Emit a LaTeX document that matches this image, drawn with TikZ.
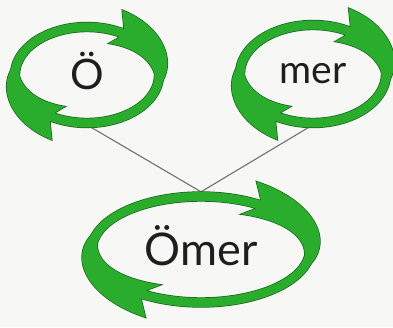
\documentclass[tikz,border=0pt]{standalone}
\usepackage{fontspec}
\newfontfamily\wordfont{Lato}
\usetikzlibrary{shapes.geometric}
\definecolor{ringgreen}{RGB}{42,172,44}
\definecolor{ringedge}{RGB}{22,100,24}
\definecolor{linkgray}{RGB}{112,112,112}
\definecolor{ink}{RGB}{30,30,30}
\definecolor{paper}{RGB}{247,247,245}
\tikzset{declare function={taper(\t,\p,\q)=((\t-\q)/(\p-\q))*(1.5-0.5*(\t-\q)/(\p-\q));}}
% half of a ring: a, b, barb angle, tip angle
\newcommand{\ringarrow}[4]{
  plot[domain=#4+200:#3,samples=40] ({(#1+4.5)*cos(\x)},{(#2+4.5)*sin(\x)})
  -- plot[domain=#3+7:#4,samples=30] ({(#1+22*taper(\x,#3+7,#4))*cos(\x)},{(#2+22*taper(\x,#3+7,#4))*sin(\x)})
  -- plot[domain=#4:#3+7,samples=30] ({(#1-14*taper(\x,#3+7,#4))*cos(\x)},{(#2-14*taper(\x,#3+7,#4))*sin(\x)})
  -- plot[domain=#3:#4+200,samples=40] ({(#1-4.5)*cos(\x)},{(#2-4.5)*sin(\x)}) -- cycle}

\begin{document}
\begin{tikzpicture}[x=1pt,y=1pt,
    word/.style={ellipse, inner sep=0pt, text depth=0pt, text=ink},
    ringline/.style={draw=ringedge, line width=1.4pt},
    link/.style={draw=linkgray, line width=1.1pt}]
  \fill[paper] (0,0) rectangle (393,327);
  \useasboundingbox (0,0) rectangle (393,327);

  \node[word, minimum width=153, minimum height=105, text height=30pt,
    font=\wordfont\fontsize{42}{42}\selectfont] (oe) at (87,252) {Ö};
  \node[word, minimum width=155, minimum height=107, text height=20pt,
    font=\wordfont\fontsize{39}{39}\selectfont] (me) at (313,253) {mer};
  \node[word, minimum width=227, minimum height=115, text height=32pt,
    font=\wordfont\fontsize{45}{45}\selectfont] (om) at (201,77.5) {Ömer};

  \draw[link] (oe.-85) -- (om.north);
  \draw[link] (me.-95) -- (om.north);

  \begin{scope}[shift={(oe.center)}]
    \foreach \r in {0,180} \draw[ringline, rotate=\r] \ringarrow{72}{48}{61}{-18};
    \foreach \r in {0,180} \fill[ringgreen, rotate=\r] \ringarrow{72}{48}{61}{-18};
  \end{scope}
  \begin{scope}[shift={(me.center)}]
    \foreach \r in {0,180} \draw[ringline, rotate=\r] \ringarrow{73}{49}{61}{-18};
    \foreach \r in {0,180} \fill[ringgreen, rotate=\r] \ringarrow{73}{49}{61}{-18};
  \end{scope}
  \begin{scope}[shift={(om.center)}]
    \foreach \r in {0,180} \draw[ringline, rotate=\r] \ringarrow{109}{53}{58}{-28};
    \foreach \r in {0,180} \fill[ringgreen, rotate=\r] \ringarrow{109}{53}{58}{-28};
  \end{scope}
\end{tikzpicture}
\end{document}
